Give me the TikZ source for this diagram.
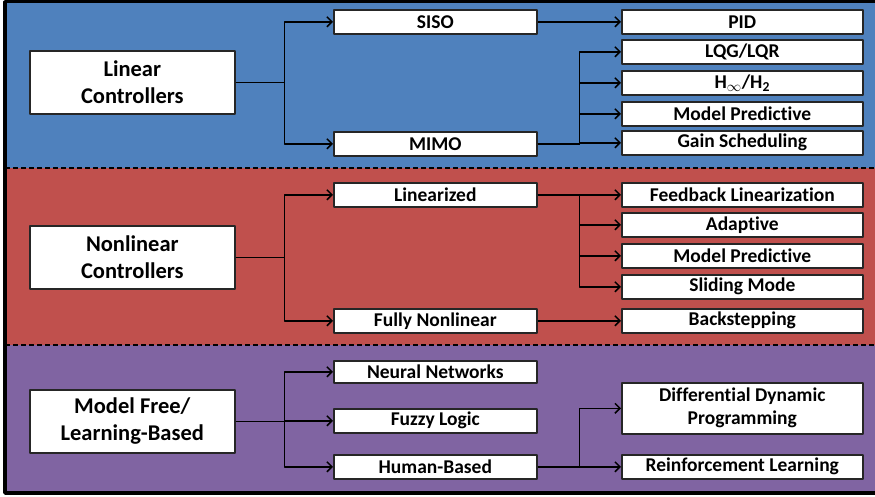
\documentclass[tikz,border=0pt]{standalone}
\usepackage{fontspec}
\setmainfont{Carlito}[Ligatures=NoCommon]
\usetikzlibrary{arrows.meta}
\definecolor{linblue}{HTML}{4F81BD}
\definecolor{nonred}{HTML}{C0504D}
\definecolor{freepurple}{HTML}{8064A2}
\begin{document}
\begin{tikzpicture}[x=1pt, y=-1pt, line join=round, >={Straight Barb[length=5pt,width=10pt]},
  box/.style={draw=black!85, line width=1.6pt, fill=white, inner sep=0pt, anchor=north west,
    font=\fontsize{19.5}{23}\selectfont\bfseries, align=center},
  catbox/.style={box, minimum width=205pt, minimum height=63pt, font=\fontsize{22.5}{27}\selectfont\bfseries},
  midbox/.style={box, minimum width=203pt, minimum height=24pt},
  endbox/.style={box, minimum width=241pt, minimum height=24pt},
  link/.style={->, line width=1.5pt}]
\useasboundingbox (0,0) rectangle (875,497);
\fill[white] (0,0) rectangle (875,497);
% bands
\fill[linblue] (5,2) rectangle (875,168);
\fill[nonred] (5,168) rectangle (875,345);
\fill[freepurple] (5,345) rectangle (875,493);
\draw[line width=1.3pt, dash pattern=on 5pt off 3pt] (5,168)--(875,168) (5,345)--(875,345);
\draw[line width=3.5pt] (880,1.75) -- (5,1.75) -- (5,493) -- (880,493);
% linear
\node[catbox] (lin) at (29,50) {Linear\\Controllers};
\node[midbox] (siso) at (333,9) {SISO};
\node[midbox] (mimo) at (333,131) {MIMO};
\node[endbox] (pid) at (621,9) {PID};
\node[endbox] (lqg) at (621,39) {LQG/LQR};
\node[endbox] (hinf) at (621,70) {H\textsubscript{$\infty$}/H\textsubscript{2}};
\node[endbox] (mpca) at (621,101) {Model Predictive};
\node[endbox] (gain) at (621,130) {Gain Scheduling};
\draw[link] (lin.east) -- ++(49,0) |- (siso.west);
\draw[link] (lin.east) -- ++(49,0) |- (mimo.west);
\draw[link] (siso) -- (pid);
\foreach \t in {lqg,hinf,mpca,gain}
  \draw[link] (mimo.east) -- ++(42,0) |- (\t.west);
% nonlinear
\node[catbox] (non) at (29,225) {Nonlinear\\Controllers};
\node[midbox] (lzd) at (333,182) {Linearized};
\node[midbox] (fnl) at (333,308) {Fully Nonlinear};
\node[endbox] (fbl) at (621,182) {Feedback Linearization};
\node[endbox] (adp) at (621,212) {Adaptive};
\node[endbox] (mpcb) at (621,243) {Model Predictive};
\node[endbox] (smc) at (621,274) {Sliding Mode};
\node[endbox] (bks) at (621,308) {Backstepping};
\draw[link] (non.east) -- ++(49,0) |- (lzd.west);
\draw[link] (non.east) -- ++(49,0) |- (fnl.west);
\foreach \t in {fbl,adp,mpcb,smc}
  \draw[link] (lzd.east) -- ++(42,0) |- (\t.west);
\draw[link] (fnl) -- (bks);
% model free
\node[catbox] (mfl) at (29,389) {Model Free/\\Learning-Based};
\node[midbox, minimum height=22pt] (nn) at (333,360) {Neural Networks};
\node[midbox] (fz) at (333,408) {Fuzzy Logic};
\node[midbox] (hb) at (333,454) {Human-Based};
\node[endbox, minimum height=51pt] (ddp) at (621,382) {Differential Dynamic\\Programming};
\node[endbox] (rl) at (621,454) {Reinforcement Learning};
\foreach \t in {nn,fz,hb}
  \draw[link] (mfl.east) -- ++(49,0) |- (\t.west);
\foreach \t in {ddp,rl}
  \draw[link] (hb.east) -- ++(42,0) |- (\t.west);
\end{tikzpicture}
\end{document}
